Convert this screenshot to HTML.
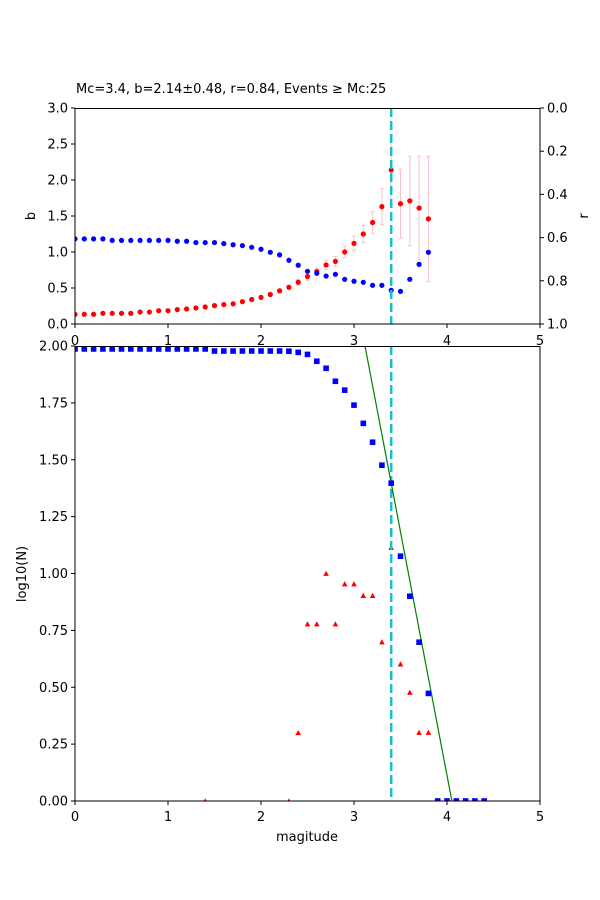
<!DOCTYPE html>
<html><head><meta charset="utf-8"><style>
body{margin:0;background:#fff}
svg{display:block;font-family:"DejaVu Sans","Liberation Sans",sans-serif}
</style></head><body>
<svg id="chart" width="600" height="900" viewBox="0 0 600 900" xmlns="http://www.w3.org/2000/svg">
<rect width="600" height="900" fill="#fff"/>
<defs>
<clipPath id="clipTop"><rect x="75" y="108" width="465" height="216"/></clipPath>
<clipPath id="clipBot"><rect x="75" y="346" width="465" height="455"/></clipPath>
</defs>
<text x="76" y="93" font-size="13">Mc=3.4, b=2.14±0.48, r=0.84, Events ≥ Mc:25</text>
<g id="topPanel"></g>
<g id="botPanel"></g>
</svg>
<script>
const bValues=[0.135,0.135,0.135,0.148,0.148,0.148,0.148,0.166,0.166,0.185,0.185,0.2,0.208,0.222,0.236,0.255,0.27,0.28,0.31,0.34,0.37,0.41,0.46,0.51,0.58,0.66,0.73,0.82,0.87,1.0,1.12,1.25,1.41,1.63,2.14,1.67,1.71,1.61,1.46];
const bErrors=[0.01,0.01,0.01,0.01,0.01,0.01,0.01,0.01,0.01,0.01,0.01,0.01,0.01,0.01,0.01,0.01,0.01,0.01,0.02,0.02,0.02,0.02,0.03,0.03,0.04,0.05,0.05,0.06,0.07,0.08,0.1,0.12,0.15,0.25,0.48,0.48,0.62,0.72,0.87];
const rValues=[0.606,0.606,0.606,0.606,0.613,0.613,0.613,0.613,0.613,0.613,0.613,0.617,0.617,0.623,0.623,0.623,0.628,0.633,0.637,0.645,0.654,0.668,0.68,0.705,0.728,0.756,0.765,0.778,0.77,0.793,0.802,0.807,0.821,0.821,0.844,0.849,0.793,0.724,0.668];
const cumMags=[0,0.1,0.2,0.3,0.4,0.5,0.6,0.7,0.8,0.9,1.0,1.1,1.2,1.3,1.4,1.5,1.6,1.7,1.8,1.9,2.0,2.1,2.2,2.3,2.4,2.5,2.6,2.7,2.8,2.9,3.0,3.1,3.2,3.3,3.4,3.5,3.6,3.7,3.8,3.9,4.0,4.1,4.2,4.3,4.4];
const cumLogN=[1.987,1.987,1.987,1.987,1.987,1.987,1.987,1.987,1.987,1.987,1.987,1.987,1.987,1.987,1.987,1.978,1.978,1.978,1.978,1.978,1.978,1.978,1.978,1.977,1.972,1.963,1.933,1.902,1.845,1.806,1.74,1.66,1.577,1.476,1.397,1.076,0.90,0.698,0.473,0,0,0,0,0,0];
const incMags=[1.4,2.3,2.4,2.5,2.6,2.7,2.8,2.9,3.0,3.1,3.2,3.3,3.4,3.5,3.6,3.7,3.8];
const incLogN=[0,0,0.30,0.778,0.778,1.0,0.778,0.954,0.954,0.903,0.903,0.699,1.114,0.602,0.477,0.301,0.301];
const Mc=3.4, bFit=2.14;
const xTicks=[0,1,2,3,4,5];
const bTicks=["0.0","0.5","1.0","1.5","2.0","2.5","3.0"];
const rTicks=["0.0","0.2","0.4","0.6","0.8","1.0"];
const nTicks=["0.00","0.25","0.50","0.75","1.00","1.25","1.50","1.75","2.00"];

const NS="http://www.w3.org/2000/svg";
const X=m=>75+m*93;
const YB=b=>324-b*72;
const YR=r=>108+r*216;
const YN=v=>801-v*227.5;
function mk(p,tag,attrs,txt){const e=document.createElementNS(NS,tag);for(const k in attrs)e.setAttribute(k,attrs[k]);if(txt!==undefined)e.textContent=txt;p.appendChild(e);return e;}
const topG=document.getElementById('topPanel'),botG=document.getElementById('botPanel');

// top panel
const tc=mk(topG,'g',{'clip-path':'url(#clipTop)'});
bValues.forEach((b,i)=>{const m=i*0.1;
 const e=mk(tc,'line',{x1:X(m),x2:X(m),y1:YB(b-bErrors[i]),y2:YB(b+bErrors[i]),stroke:'#ffc0cb','stroke-width':1});
 
 
 mk(tc,'line',{x1:X(m)-2,x2:X(m)+2,y1:YB(b+bErrors[i]),y2:YB(b+bErrors[i]),stroke:'#ffc0cb'});
 mk(tc,'line',{x1:X(m)-2,x2:X(m)+2,y1:YB(b-bErrors[i]),y2:YB(b-bErrors[i]),stroke:'#ffc0cb'});
});
bValues.forEach((b,i)=>{const e=mk(tc,'circle',{cx:X(i*0.1),cy:YB(b),r:2.6,fill:'#ff0000'});
 
 });
rValues.forEach((r,i)=>{const e=mk(tc,'circle',{cx:X(i*0.1),cy:YR(r),r:2.6,fill:'#0000ff'});
 
 });
const mc1=mk(topG,'line',{x1:X(Mc),x2:X(Mc),y1:108,y2:324,stroke:'#17becf','stroke-width':2.5,'stroke-dasharray':'9,4'});


mk(topG,'rect',{x:75,y:108.5,width:465,height:215.5,fill:'none',stroke:'#000','stroke-width':1});
xTicks.forEach(t=>{mk(topG,'line',{x1:X(t),x2:X(t),y1:324,y2:328,stroke:'#000'});
 const e=mk(topG,'text',{x:X(t),y:345,'font-size':13,'text-anchor':'middle'},String(t));
 
 });
bTicks.forEach((t,i)=>{const y=YB(i*0.5);mk(topG,'line',{x1:71,x2:75,y1:y,y2:y,stroke:'#000'});
 const e=mk(topG,'text',{x:68,y:y+4.5,'font-size':13,'text-anchor':'end'},t);
 
 });
rTicks.forEach((t,i)=>{const y=YR(i*0.2);mk(topG,'line',{x1:540,x2:544,y1:y,y2:y,stroke:'#000'});
 const e=mk(topG,'text',{x:547,y:y+4.5,'font-size':13},t);
 
 });
mk(topG,'text',{x:0,y:0,'font-size':13,'text-anchor':'middle',transform:'translate(35,216) rotate(-90)',},'b');
mk(topG,'text',{x:0,y:0,'font-size':13,'text-anchor':'middle',transform:'translate(588,216) rotate(-90)',},'r');

// bottom panel
mk(botG,'rect',{x:75,y:346,width:465,height:455,fill:'#fff'});
const bc=mk(botG,'g',{'clip-path':'url(#clipBot)'});
incLogN.forEach((v,i)=>{const x=X(incMags[i]),y=YN(v);
 const e=mk(bc,'polygon',{points:`${x-2.8},${y+2.4} ${x+2.8},${y+2.4} ${x},${y-2.8}`,fill:'#ff0000'});
 
 });
const mc2=mk(bc,'line',{x1:X(Mc),x2:X(Mc),y1:346,y2:801,stroke:'#17becf','stroke-width':2.5,'stroke-dasharray':'9,4'});


const aFit=cumLogN[cumMags.indexOf(Mc)]+bFit*Mc;
const fit=mk(bc,'line',{x1:X(3.0),y1:YN(aFit-bFit*3.0),x2:X(4.2),y2:YN(aFit-bFit*4.2),stroke:'#008000','stroke-width':1.2});


cumLogN.forEach((v,i)=>{const x=X(cumMags[i]),y=YN(v);
 const e=mk(bc,'rect',{x:x-2.8,y:y-2.8,width:5.6,height:5.6,fill:'#0000ff'});
 
 });
mk(botG,'rect',{x:75,y:346.5,width:465,height:454.5,fill:'none',stroke:'#000','stroke-width':1});
xTicks.forEach(t=>{mk(botG,'line',{x1:X(t),x2:X(t),y1:801,y2:805,stroke:'#000'});
 const e=mk(botG,'text',{x:X(t),y:821,'font-size':13,'text-anchor':'middle'},String(t));
 
 });
nTicks.forEach((t,i)=>{const y=YN(i*0.25);mk(botG,'line',{x1:71,x2:75,y1:y,y2:y,stroke:'#000'});
 const e=mk(botG,'text',{x:68,y:y+4.5,'font-size':13,'text-anchor':'end'},t);
 
 });
mk(botG,'text',{x:307,y:841,'font-size':13,'text-anchor':'middle',},'magitude');
mk(botG,'text',{x:0,y:0,'font-size':13,'text-anchor':'middle',transform:'translate(26,574) rotate(-90)',},'log10(N)');
</script>
</body></html>
